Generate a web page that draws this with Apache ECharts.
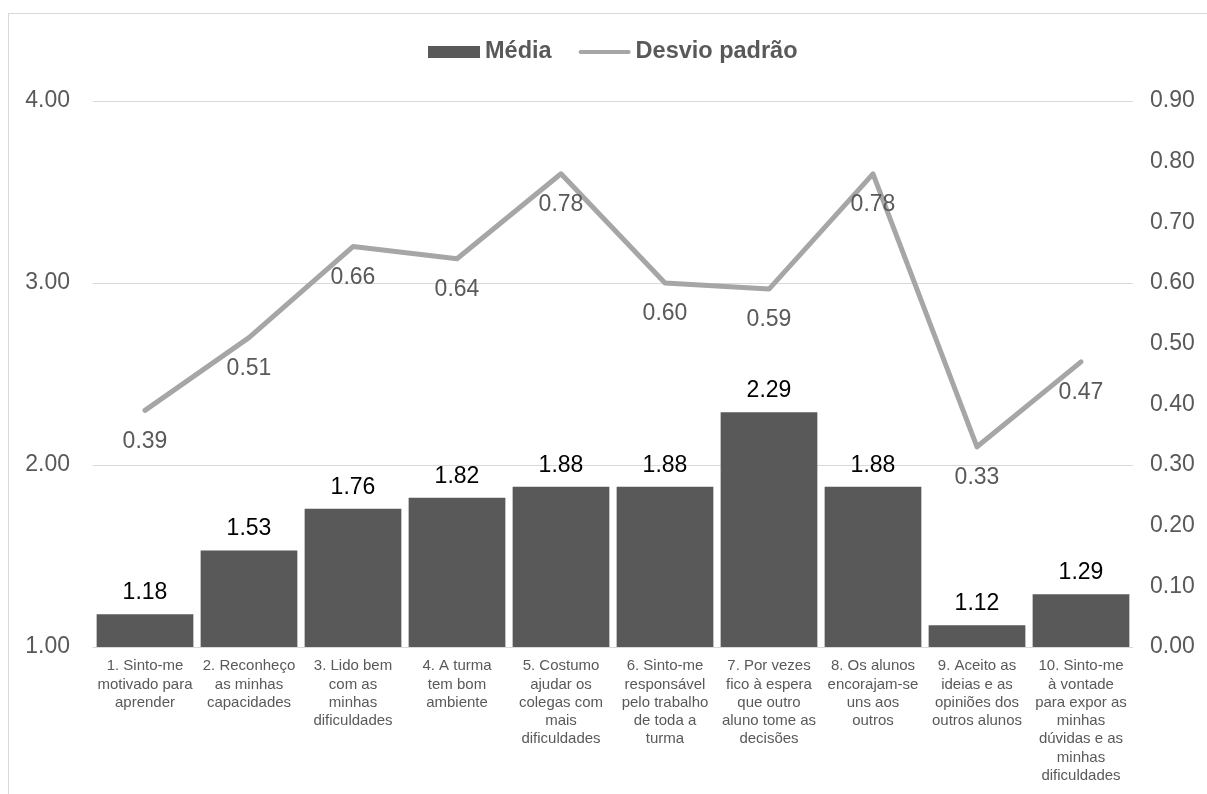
<!DOCTYPE html>
<html>
<head>
<meta charset="utf-8">
<script src="https://cdn.jsdelivr.net/npm/echarts@6/dist/echarts.min.js"></script>
<style>
  html, body { margin: 0; padding: 0; background: #fff; overflow: hidden; }
  #frame { position: absolute; left: 8px; top: 13px; width: 1400px; height: 1000px;
           border-left: 1px solid #d9d9d9; border-top: 1px solid #d9d9d9; }
  #chart { position: absolute; left: 0; top: 0; width: 1207px; height: 794px; }
</style>
</head>
<body>
<div id="frame"></div>
<div id="chart"></div>
<script>
// categorias (quebras de linha como no original)
const categories = [
  "1. Sinto-me\nmotivado para\naprender",
  "2. Reconheço\nas minhas\ncapacidades",
  "3. Lido bem\ncom as\nminhas\ndificuldades",
  "4. A turma\ntem bom\nambiente",
  "5. Costumo\najudar os\ncolegas com\nmais\ndificuldades",
  "6. Sinto-me\nresponsável\npelo trabalho\nde toda a\nturma",
  "7. Por vezes\nfico à espera\nque outro\naluno tome as\ndecisões",
  "8. Os alunos\nencorajam-se\nuns aos\noutros",
  "9. Aceito as\nideias e as\nopiniões dos\noutros alunos",
  "10. Sinto-me\nà vontade\npara expor as\nminhas\ndúvidas e as\nminhas\ndificuldades"
];
const media = [1.18, 1.53, 1.76, 1.82, 1.88, 1.88, 2.29, 1.88, 1.12, 1.29];
const desvio = [0.39, 0.51, 0.66, 0.64, 0.78, 0.60, 0.59, 0.78, 0.33, 0.47];

const chart = echarts.init(document.getElementById("chart"));
const font = "Liberation Sans, Arial, sans-serif";

chart.setOption({
  animation: false,
  textStyle: { fontFamily: font },
  legend: {
    top: 35,
    left: 423,
    itemWidth: 52,
    itemHeight: 12,
    itemGap: 27,
    textStyle: { fontSize: 23.5, fontWeight: "bold", color: "#595959" },
    data: [
      { name: "Média", icon: "rect" },
      { name: "Desvio padrão", icon: "path://M2,0 L50,0 A2,2 0 0 1 50,4 L2,4 A2,2 0 0 1 2,0 Z" }
    ]
  },
  grid: { left: 93, right: 74, top: 101, bottom: 147 },
  xAxis: {
    type: "category",
    data: categories,
    axisTick: { show: false },
    axisLine: { lineStyle: { color: "#d9d9d9", width: 1 } },
    axisLabel: {
      interval: 0,
      fontSize: 15,
      lineHeight: 18.3,
      color: "#595959",
      margin: 10
    }
  },
  yAxis: [
    {
      type: "value",
      min: 1,
      max: 4,
      interval: 1,
      axisLine: { show: false },
      axisTick: { show: false },
      splitLine: { lineStyle: { color: "#d9d9d9", width: 1 } },
      axisLabel: { fontSize: 23, color: "#595959", margin: 23, formatter: v => v.toFixed(2) }
    },
    {
      type: "value",
      min: 0,
      max: 0.9,
      interval: 0.1,
      axisLine: { show: false },
      axisTick: { show: false },
      splitLine: { show: false },
      axisLabel: { fontSize: 23, color: "#595959", margin: 17, formatter: v => v.toFixed(2) }
    }
  ],
  series: [
    {
      name: "Média",
      type: "bar",
      data: media,
      barCategoryGap: "7%",
      itemStyle: { color: "#595959" },
      label: {
        show: true,
        position: "top",
        distance: 10,
        fontSize: 23,
        color: "#000",
        formatter: p => p.value.toFixed(2)
      }
    },
    {
      name: "Desvio padrão",
      type: "line",
      yAxisIndex: 1,
      data: desvio,
      symbol: "circle",
      symbolSize: 1,
      itemStyle: { color: "#a6a6a6" },
      lineStyle: { color: "#a6a6a6", width: 5, cap: "round", join: "round" },
      label: {
        show: true,
        position: "bottom",
        distance: 19,
        fontSize: 23,
        color: "#595959",
        formatter: p => p.value.toFixed(2)
      }
    }
  ]
});
</script>
</body>
</html>
